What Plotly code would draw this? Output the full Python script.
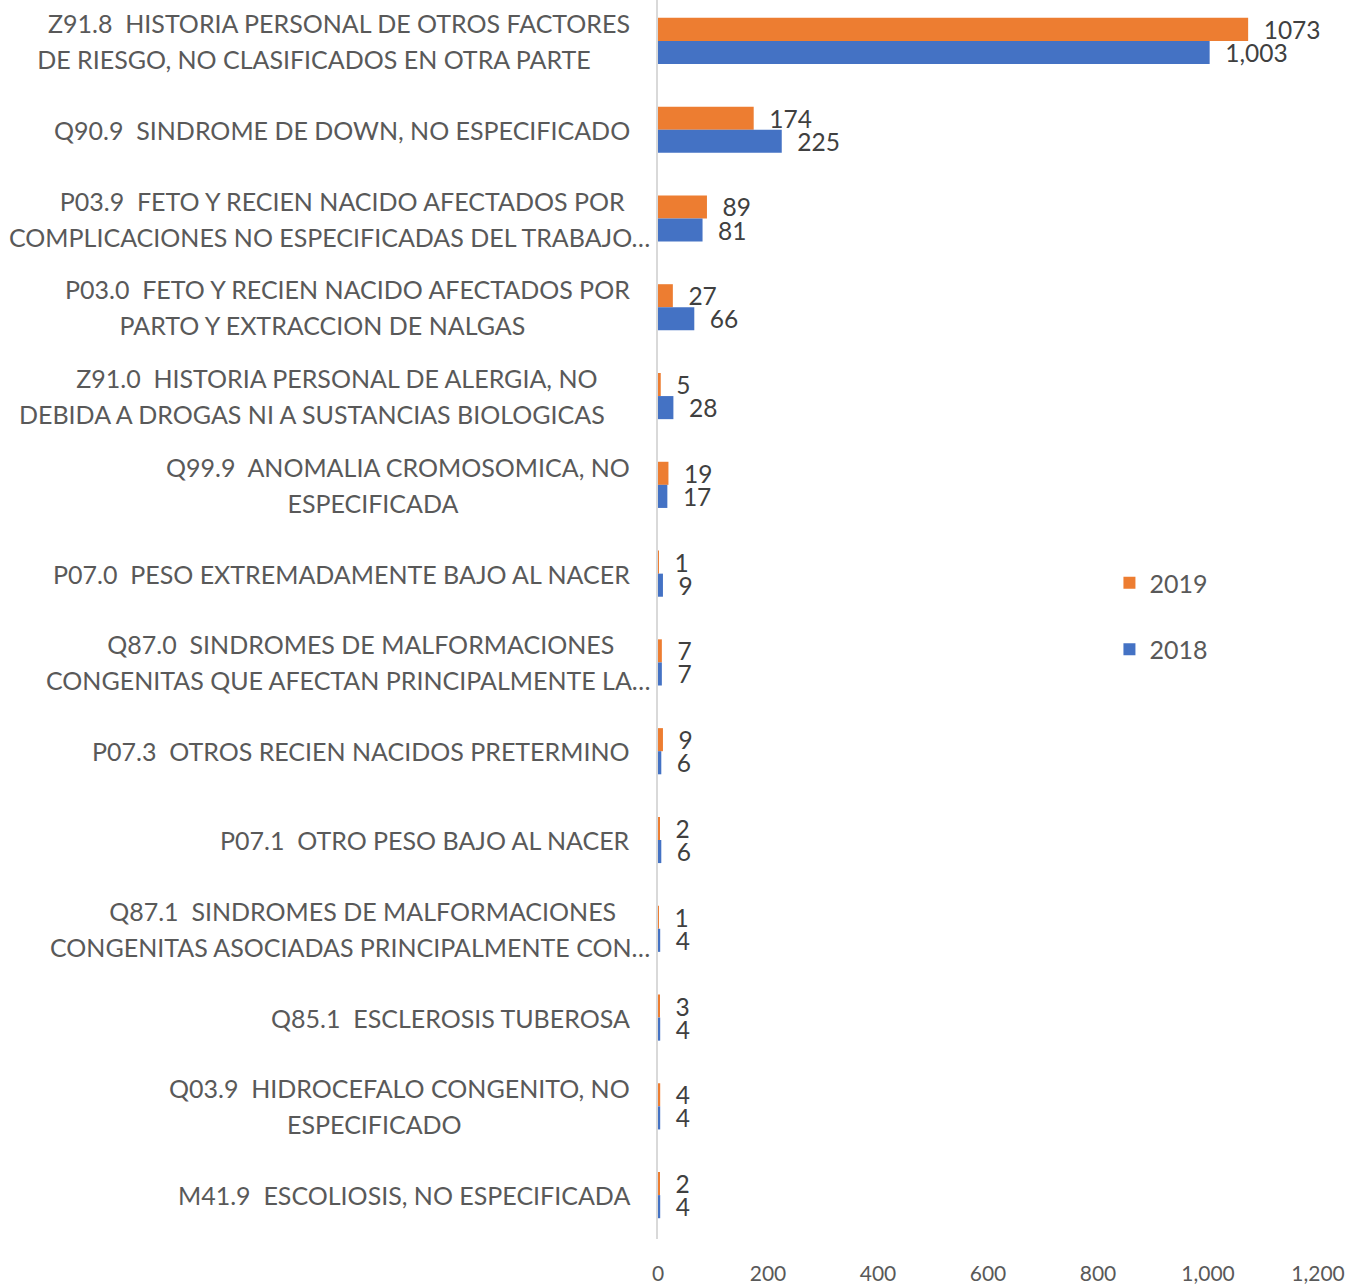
import plotly.graph_objects as go

categories = [
    "Z91.8  HISTORIA PERSONAL DE OTROS FACTORES<br>DE RIESGO, NO CLASIFICADOS EN OTRA PARTE",
    "Q90.9  SINDROME DE DOWN, NO ESPECIFICADO",
    "P03.9  FETO Y RECIEN NACIDO AFECTADOS POR<br>COMPLICACIONES NO ESPECIFICADAS DEL TRABAJO…",
    "P03.0  FETO Y RECIEN NACIDO AFECTADOS POR<br>PARTO Y EXTRACCION DE NALGAS",
    "Z91.0  HISTORIA PERSONAL DE ALERGIA, NO<br>DEBIDA A DROGAS NI A SUSTANCIAS BIOLOGICAS",
    "Q99.9  ANOMALIA CROMOSOMICA, NO<br>ESPECIFICADA",
    "P07.0  PESO EXTREMADAMENTE BAJO AL NACER",
    "Q87.0  SINDROMES DE MALFORMACIONES<br>CONGENITAS QUE AFECTAN PRINCIPALMENTE LA…",
    "P07.3  OTROS RECIEN NACIDOS PRETERMINO",
    "P07.1  OTRO PESO BAJO AL NACER",
    "Q87.1  SINDROMES DE MALFORMACIONES<br>CONGENITAS ASOCIADAS PRINCIPALMENTE CON…",
    "Q85.1  ESCLEROSIS TUBEROSA",
    "Q03.9  HIDROCEFALO CONGENITO, NO<br>ESPECIFICADO",
    "M41.9  ESCOLIOSIS, NO ESPECIFICADA",
]
values_2019 = [1073, 174, 89, 27, 5, 19, 1, 7, 9, 2, 1, 3, 4, 2]
values_2018 = [1003, 225, 81, 66, 28, 17, 9, 7, 6, 6, 4, 4, 4, 4]
x_ticks = [0, 200, 400, 600, 800, 1000, 1200]

# data labels as shown: 2019 without thousands separator, 2018 with it
labels_2019 = [str(v) for v in values_2019]
labels_2018 = [f"{v:,}" for v in values_2018]

FONT = "Lato"
ORANGE = "#ED7D31"
BLUE = "#4472C4"
LABEL_COLOR = "#595959"
VALUE_COLOR = "#404040"
NB = "\u00a0"
EN = "\u2002"  # en space, used for Excel-like wrapped-label alignment

fig = go.Figure()
fig.add_trace(go.Bar(
    y=categories, x=values_2019, orientation="h", name="2019",
    marker=dict(color=ORANGE, line=dict(width=0)),
    text=labels_2019, texttemplate=NB * 2 + "%{text}", textposition="outside",
    textfont=dict(family=FONT, size=24.5, color=VALUE_COLOR),
    constraintext="none", cliponaxis=False, legendgroup="a",
))
fig.add_trace(go.Bar(
    y=categories, x=values_2018, orientation="h", name="2018",
    marker=dict(color=BLUE, line=dict(width=0)),
    text=labels_2018, texttemplate=NB * 2 + "%{text}", textposition="outside",
    textfont=dict(family=FONT, size=24.5, color=VALUE_COLOR),
    constraintext="none", cliponaxis=False, legendgroup="b",
))

LBL = 25
annotations = []
for cat in categories:
    lines = [l.replace("  ", " " + NB) for l in cat.split("<br>")]
    xshift = 0
    if len(lines) == 2:
        truncated = lines[1].endswith("…")
        pad = EN if truncated else EN * 2
        lines = [pad + lines[0], lines[1] + pad]
        if truncated:
            xshift = 33
    txt = "<br>".join(f"<span style='font-size:{LBL}px'>{l}</span>" for l in lines)
    annotations.append(dict(
        x=-0.0395, xref="paper", y=cat, yref="y", text=txt, xshift=xshift,
        xanchor="right", yanchor="middle", align="center", showarrow=False,
        font=dict(family=FONT, size=27.7, color=LABEL_COLOR),
    ))

fig.update_layout(
    width=1345, height=1285,
    margin=dict(l=658, r=27, t=0, b=43),
    barmode="group", bargap=0.48, bargroupgap=0,
    plot_bgcolor="white", paper_bgcolor="white",
    font=dict(family=FONT, size=22, color=LABEL_COLOR),
    showlegend=True,
    legend=dict(
        x=0.684, y=0.548, xanchor="left", yanchor="top",
        traceorder="grouped", tracegroupgap=31,
        font=dict(family=FONT, size=25, color=LABEL_COLOR),
    ),
    annotations=annotations,
)
fig.update_xaxes(
    range=[0, 1200], tickvals=x_ticks, tickformat=",",
    showgrid=False, zeroline=False, showline=False,
    ticks="outside", ticklen=16, tickcolor="white",
    tickfont=dict(family=FONT, size=21, color=LABEL_COLOR),
)
fig.update_yaxes(
    type="category", categoryorder="array", categoryarray=categories,
    range=[13.494, -0.461], showticklabels=False, showgrid=False,
    zeroline=False, showline=True, linecolor="#D9D9D9", linewidth=2,
    ticks="",
)

fig.write_html(
    "out.html",
    config={"displayModeBar": False},
    post_script="document.body.style.margin='0';",
)
